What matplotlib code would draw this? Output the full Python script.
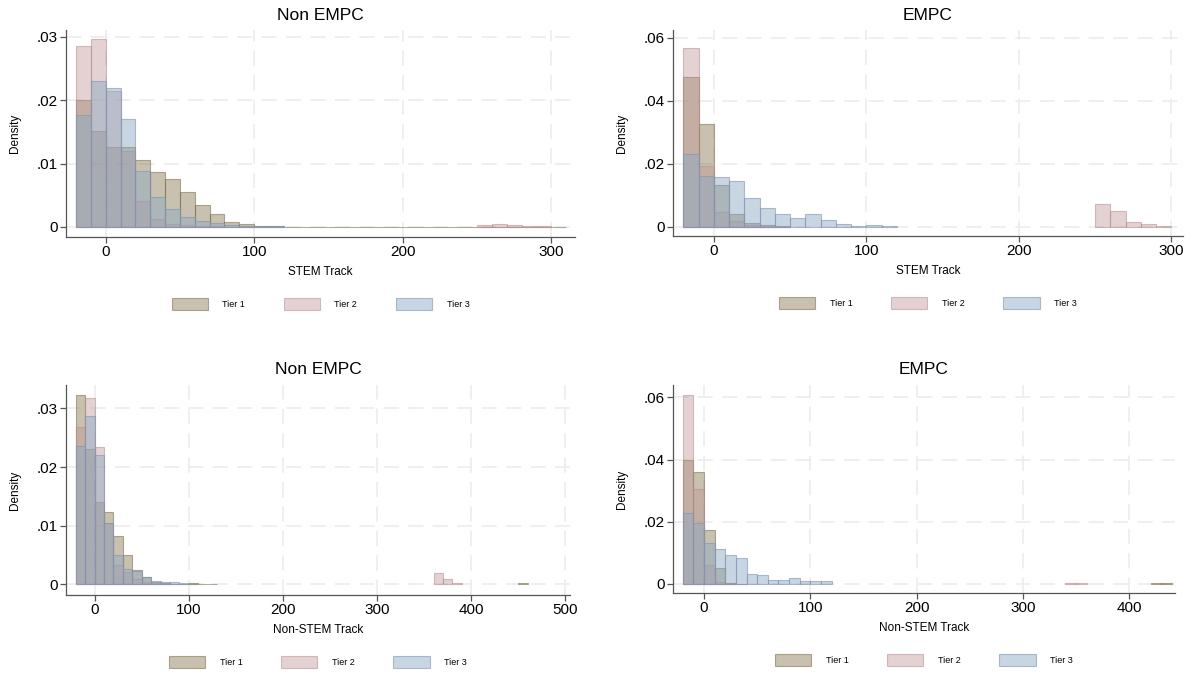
import numpy as np
import matplotlib.pyplot as plt
from matplotlib.patches import Patch

plt.rcParams['font.family'] = ['Liberation Sans', 'DejaVu Sans']

W, H = 1194, 674
bin_width = 10
bin_start = -20
tiers = ['Tier 1', 'Tier 2', 'Tier 3']

# densities per 10-unit bin, first bin starts at -20
stem_non_t1 = [0.0200, 0.0151, 0.0126, 0.0126, 0.0105, 0.0086, 0.0076, 0.0055,
               0.0034, 0.0021, 0.0007, 0.0004, 0.0002, 0.0001]
stem_non_t2 = [0.0286, 0.0297, 0.0215, 0.0120, 0.0041, 0.0012, 0.0005, 0.0003,
               0.0001, 0.0001]
stem_non_t3 = [0.0176, 0.0230, 0.0219, 0.0170, 0.0089, 0.0047, 0.0029, 0.0015,
               0.0010, 0.0006, 0.0003, 0.0002, 0.0001, 0.0001]

stem_empc_t1 = [0.0477, 0.0327, 0.0132, 0.0040, 0.0013, 0.0005, 0.0002]
stem_empc_t2 = [0.0569, 0.0193, 0.0047, 0.0020, 0.0005, 0.0002]
stem_empc_t3 = [0.0232, 0.0160, 0.0158, 0.0145, 0.0092, 0.0060, 0.0040, 0.0028,
                0.0040, 0.0023, 0.0008, 0.0003, 0.0005, 0.0002]

nonstem_non_t1 = [0.0323, 0.0231, 0.0140, 0.0124, 0.0082, 0.0051, 0.0024, 0.0012,
                  0.0005, 0.0002, 0.0001, 0.0001, 0.0002, 0.0001, 0.0001]
nonstem_non_t2 = [0.0268, 0.0318, 0.0234, 0.0105, 0.0033, 0.0022, 0.0010, 0.0005,
                  0.0002, 0.0001]
nonstem_non_t3 = [0.0236, 0.0288, 0.0220, 0.0105, 0.0051, 0.0027, 0.0023, 0.0012,
                  0.0006, 0.0005, 0.0004, 0.0002, 0.0001]

nonstem_empc_t1 = [0.0400, 0.0361, 0.0175, 0.0050, 0.0003, 0.0001]
nonstem_empc_t2 = [0.0608, 0.0306, 0.0062, 0.0005, 0.0002]
nonstem_empc_t3 = [0.0228, 0.0196, 0.0132, 0.0112, 0.0092, 0.0084, 0.0032, 0.0028,
                   0.0014, 0.0014, 0.0019, 0.0008, 0.0010, 0.0008]

# outlying bins: (start of first bin, densities)
stem_non_t1_tail = (120, [0.00005, 0.00005, 0.00005, 0.00005, 0.00005, 0.00005,
                          0.00005, 0.00005, 0.00005, 0.00005, 0.00005, 0.00005,
                          0.00005, 0.00005, 0.00005, 0.00005, 0.00005, 0.00005,
                          0.00005])
stem_non_t2_tail = (250, [0.0003, 0.0004, 0.0003, 0.0002, 0.0001])
stem_empc_t2_tail = (250, [0.0072, 0.0051, 0.0016, 0.0008, 0.0002])
nonstem_non_t1_tail = (450, [0.0002])
nonstem_non_t2_tail = (360, [0.0020, 0.0010, 0.0003])
nonstem_empc_t1_tail = (420, [0.0002, 0.0002])
nonstem_empc_t2_tail = (340, [0.0002, 0.0002])

face_colors = [(0.47, 0.40, 0.22, 0.40), (0.75, 0.58, 0.58, 0.42), (0.55, 0.66, 0.77, 0.47)]
edge_colors = [(0.47, 0.42, 0.28, 0.55), (0.70, 0.55, 0.55, 0.55), (0.50, 0.58, 0.70, 0.6)]


def draw_hist(ax, start, heights, i):
    h = np.asarray(heights, dtype=float)
    left = start + bin_width * np.arange(len(h))
    ax.bar(left, h, width=bin_width, align='edge', color=face_colors[i],
           edgecolor=edge_colors[i], linewidth=0.8, zorder=2 + i)


def px_axes(fig, l, t, r, b):
    return fig.add_axes([l / W, (H - b) / H, (r - l) / W, (b - t) / H])


fig = plt.figure(figsize=(W / 100, H / 100), dpi=100)

panels = [
    dict(box=(66, 30, 575, 237), xlim=(-26.7, 316), ylim=(-0.0016, 0.0311),
         yt=[0, 0.01, 0.02, 0.03], ytl=['0', '.01', '.02', '.03'], xt=[0, 100, 200, 300],
         title='Non EMPC', xlabel='STEM Track',
         data=[stem_non_t1, stem_non_t2, stem_non_t3],
         tails=[stem_non_t1_tail, stem_non_t2_tail, None]),
    dict(box=(673, 30, 1183, 236), xlim=(-26.8, 307.6), ylim=(-0.0029, 0.0625),
         yt=[0, 0.02, 0.04, 0.06], ytl=['0', '.02', '.04', '.06'], xt=[0, 100, 200, 300],
         title='EMPC', xlabel='STEM Track',
         data=[stem_empc_t1, stem_empc_t2, stem_empc_t3],
         tails=[None, stem_empc_t2_tail, None]),
    dict(box=(66, 385, 570, 595), xlim=(-30.4, 505), ylim=(-0.0018, 0.034),
         yt=[0, 0.01, 0.02, 0.03], ytl=['0', '.01', '.02', '.03'],
         xt=[0, 100, 200, 300, 400, 500],
         title='Non EMPC', xlabel='Non-STEM Track',
         data=[nonstem_non_t1, nonstem_non_t2, nonstem_non_t3],
         tails=[nonstem_non_t1_tail, nonstem_non_t2_tail, None]),
    dict(box=(673, 385, 1175, 593), xlim=(-29.2, 443), ylim=(-0.0029, 0.064),
         yt=[0, 0.02, 0.04, 0.06], ytl=['0', '.02', '.04', '.06'], xt=[0, 100, 200, 300, 400],
         title='EMPC', xlabel='Non-STEM Track',
         data=[nonstem_empc_t1, nonstem_empc_t2, nonstem_empc_t3],
         tails=[nonstem_empc_t1_tail, nonstem_empc_t2_tail, None]),
]

for p in panels:
    l, t, r, b = p['box']
    ax = px_axes(fig, l, t, r, b)
    for i in range(3):
        draw_hist(ax, bin_start, p['data'][i], i)
        if p['tails'][i] is not None:
            draw_hist(ax, p['tails'][i][0], p['tails'][i][1], i)
    ax.set_xlim(*p['xlim'])
    ax.set_ylim(*p['ylim'])
    ax.set_xticks(p['xt'])
    ax.set_yticks(p['yt'])
    ax.set_yticklabels(p['ytl'])
    ax.grid(True, color='#ebebeb', linewidth=1.1, linestyle=(0, (10, 6)), zorder=0)
    ax.set_axisbelow(True)
    for s in ['top', 'right']:
        ax.spines[s].set_visible(False)
    for s in ['left', 'bottom']:
        ax.spines[s].set_color('#555555')
        ax.spines[s].set_linewidth(0.9)
    ax.tick_params(direction='out', length=4, width=0.9, color='#555555',
                   labelsize=11, pad=2)

    cx = (l + r) / 2
    fig.text(cx / W, 1 - (t - 15) / H, p['title'], ha='center', va='center', fontsize=12.5)
    fig.text(cx / W, 1 - (b + 35) / H, p['xlabel'], ha='center', va='center', fontsize=8.5)
    fig.text((l - 51) / W, 1 - ((t + b) / 2) / H, 'Density', ha='center', va='center',
             rotation=90, fontsize=8.5)

    handles = [Patch(facecolor=face_colors[i], edgecolor=edge_colors[i], linewidth=0.8)
               for i in range(3)]
    fig.legend(handles, tiers, loc='center', bbox_to_anchor=(cx / W, 1 - (b + 67) / H),
               ncol=3, frameon=False, fontsize=6.5, handlelength=4.0, handleheight=1.7,
               handletextpad=1.6, columnspacing=4.3)

fig.savefig('out.png', dpi=100)
